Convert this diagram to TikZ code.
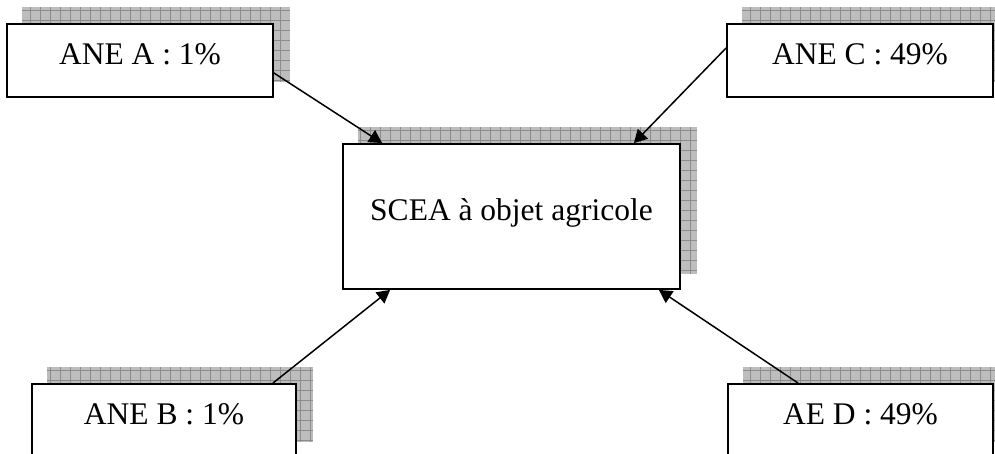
\documentclass[tikz,border=0pt]{standalone}
\usepackage{fontspec}
\setmainfont{Liberation Serif}
\usetikzlibrary{arrows.meta,backgrounds}

\tikzset{
  boite/.style={rectangle, draw, fill=white, line width=1.8pt, inner sep=0pt,
    font=\fontsize{31.5}{36}\selectfont, text height=22pt, text depth=14pt},
  ombre/.style={fill=black!26},
  grille/.style={draw=black!45, line width=0.6pt},
  fleche/.style={line width=1.5pt, -{Triangle[length=13pt,width=14pt]}}
}

\begin{document}
\begin{tikzpicture}[x=1pt,y=-1pt]
\useasboundingbox (0,0) rectangle (995,454);
\clip (0,0) rectangle (995,454);
\node[boite, minimum width=266pt, minimum height=73pt] (anea) at (140,60.5) {ANE A : 1\%};
\node[boite, minimum width=266pt, minimum height=73pt] (anec) at (860,60.5) {ANE C : 49\%};
\node[boite, minimum width=337pt, minimum height=145pt] (scea) at (511.5,216.5) {SCEA à objet agricole};
\node[boite, minimum width=264pt, minimum height=73pt] (aneb) at (164,420.5) {ANE B : 1\%};
\node[boite, minimum width=265pt, minimum height=73pt] (aed) at (860.5,420.5) {AE D : 49\%};
\begin{scope}[on background layer]
\clip (0,0) rectangle (995,454);
\foreach \n in {anea,anec,scea,aneb,aed}{
  \fill[ombre] ([shift={(16,-16)}]\n.south west) rectangle ([shift={(16,-16)}]\n.north east);
  \draw[grille] ([shift={(16,-16)}]\n.south west) grid[step=10pt] ([shift={(16,-16)}]\n.north east);
}
\end{scope}
\draw[fleche] ([yshift=-12.5pt]anea.east) -- ([xshift=40pt]scea.north west);
\draw[fleche] ([yshift=12.5pt]anec.west) -- ([xshift=-47pt]scea.north east);
\draw[fleche] ([xshift=-24pt]aneb.north east) -- ([xshift=48pt]scea.south west);
\draw[fleche] ([xshift=71pt]aed.north west) -- ([xshift=-22pt]scea.south east);
\end{tikzpicture}
\end{document}
